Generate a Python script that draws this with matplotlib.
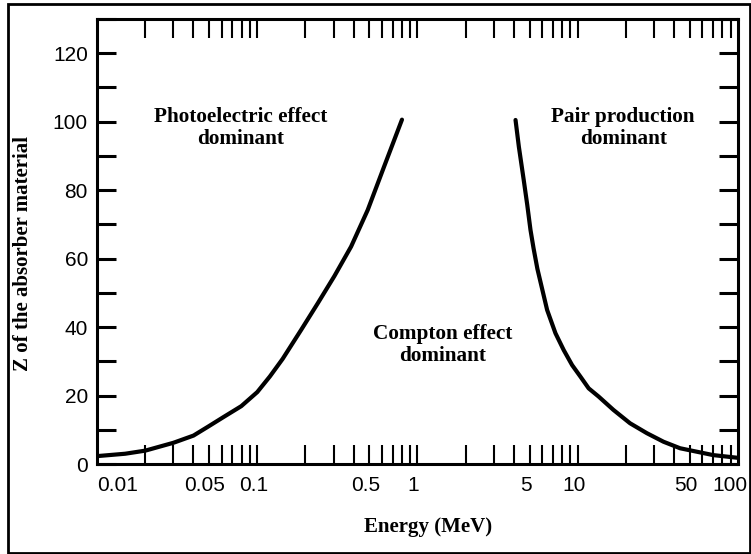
import matplotlib
matplotlib.use("Agg")
import matplotlib.pyplot as plt
from matplotlib.patches import Rectangle
from matplotlib.ticker import FixedLocator, NullLocator
from matplotlib.transforms import offset_copy

# photoelectric / Compton boundary (energy in MeV, Z)
photo_energy = [0.01, 0.015, 0.02, 0.03, 0.04, 0.0493, 0.062, 0.0795, 0.10, 0.12,
                0.144, 0.188, 0.239, 0.303, 0.385, 0.489, 0.619, 0.80]
photo_z = [2.3, 3.0, 3.9, 6.2, 8.3, 10.9, 13.8, 16.9, 21.0, 25.6,
           30.7, 39.2, 47.0, 54.9, 63.5, 74.2, 86.9, 100.6]

# Compton / pair production boundary
pair_energy = [4.09, 4.29, 4.6, 4.84, 5.07, 5.3, 5.6, 6.44, 7.26, 8.17, 9.22,
               10.4, 11.7, 13.5, 16.7, 21.2, 27.0, 34.3, 43.5, 55.2, 70.0, 100.0]
pair_z = [100.5, 92.7, 83.0, 75.7, 68.4, 63.0, 57.0, 45.0, 38.2, 33.3, 28.9,
          25.5, 22.1, 19.7, 15.8, 11.9, 9.0, 6.5, 4.6, 3.6, 2.6, 1.8]

x_label_ticks = [0.01, 0.05, 0.1, 0.5, 1, 5, 10, 50, 100]
x_label_text = ['0.01', '0.05', '0.1', '0.5', '1', '5', '10', '50', '100']
y_label_ticks = [0, 20, 40, 60, 80, 100, 120]

regions = [
    ('Photoelectric effect\ndominant', 0.0783, 98.2),
    ('Pair production\ndominant', 19.2, 98.2),
    ('Compton effect\ndominant', 1.44, 34.8),
]

fig = plt.figure(figsize=(7.51, 5.54), dpi=100)
ax = fig.add_axes([97 / 751, 1 - 464 / 554, 641 / 751, 445 / 554])

for xs, ys in [(photo_energy, photo_z), (pair_energy, pair_z)]:
    ax.plot(xs, ys, color='black', linewidth=3.0,
            solid_capstyle='round', solid_joinstyle='round')

ax.set_xscale('log')
ax.set_xlim(0.01, 100)
ax.set_ylim(0, 130)

# tick marks on every 1..9 x 10^k, labels only on a few
marks = [m * 10.0 ** k for k in range(-2, 2) for m in range(1, 10)][1:]
ax.xaxis.set_major_locator(FixedLocator(marks))
ax.xaxis.set_minor_locator(NullLocator())
ax.set_xticklabels(['' for _ in marks])
shifted = offset_copy(ax.get_xaxis_transform(), fig=fig, x=-4, y=0, units='dots')
for val, txt in zip(x_label_ticks, x_label_text):
    if val == 0.01:
        ax.text(val, -0.028, txt, transform=ax.get_xaxis_transform(), ha='left',
                va='top', fontsize=15, family='Liberation Sans')
    elif val == 100:
        ax.text(1.0, -0.028, txt, transform=offset_copy(ax.transAxes, fig=fig, x=10, y=0, units='dots'),
                ha='right', va='top', fontsize=15, family='Liberation Sans')
    else:
        ax.text(val, -0.028, txt, transform=shifted, ha='center', va='top',
                fontsize=15, family='Liberation Sans')

ax.set_yticks(range(0, 131, 10))
ax.set_yticklabels([str(v) if v in y_label_ticks else '' for v in range(0, 131, 10)],
                   family='Liberation Sans', fontsize=15)

ax.tick_params(axis='x', which='both', direction='in', top=True, bottom=True,
               length=14, width=1.5)
ax.tick_params(axis='y', which='both', direction='in', left=True, right=True,
               length=13.5, width=2.2, pad=6.5)
for sp in ax.spines.values():
    sp.set_linewidth(2.2)

for txt, xv, yv in regions:
    ax.text(xv, yv, txt, ha='center', va='center', multialignment='center',
            fontsize=15.3, fontweight='bold', family='Liberation Serif',
            linespacing=1.12)

ax.set_xlabel('Energy (MeV)', fontsize=15, fontweight='bold',
              family='Liberation Serif', va='center')
ax.xaxis.set_label_coords(0.516, -0.1416)
ax.set_ylabel('Z of the absorber material', fontsize=15, fontweight='bold',
              family='Liberation Serif', va='center')
ax.yaxis.set_label_coords(-0.1147, 0.473)

fig.patches.append(Rectangle((8 / 751, 1.5 / 554), 741.5 / 751, 549 / 554,
                             transform=fig.transFigure, fill=False,
                             edgecolor='black', linewidth=2.0))

fig.savefig('out.png', dpi=100)
